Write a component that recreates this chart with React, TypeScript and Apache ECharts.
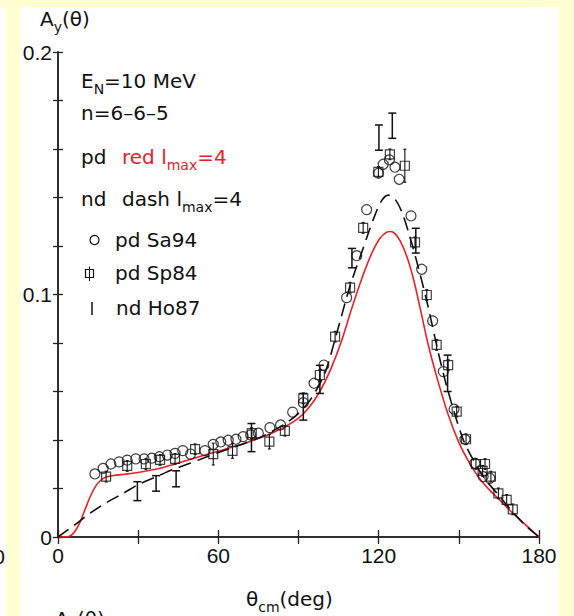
import React, { useEffect, useRef } from "react";
import * as echarts from "echarts";

// ---- data ----
const xTickLabels = [0, 60, 120, 180];
const yTickLabels = [0, 0.1, 0.2];

// pd calculation (red solid), [theta, Ay]
const pdCalc: number[][] = [
  [0, 0], [4, 0.0002], [6, 0.0018], [8, 0.0055], [10, 0.011], [12, 0.0165], [14, 0.0208],
  [16, 0.0234], [18, 0.0247], [21, 0.0254], [25, 0.0259], [30, 0.0266], [35, 0.0276], [40, 0.0289],
  [45, 0.0305], [50, 0.0322], [55, 0.0338], [60, 0.0354], [65, 0.037], [70, 0.0387],
  [75, 0.0406], [80, 0.0428], [85, 0.0455], [90, 0.049], [94, 0.0535], [98, 0.06],
  [102, 0.069], [106, 0.0805], [110, 0.0945], [114, 0.1075], [117.5, 0.1172], [120.5, 0.1232],
  [123, 0.1257], [124.5, 0.126], [126, 0.1252], [128, 0.1222], [130.5, 0.1158], [133, 0.1065],
  [135.5, 0.0945], [138.5, 0.0795], [142, 0.065], [146, 0.0505], [150, 0.039], [154, 0.0305],
  [158, 0.0238], [162, 0.0188], [166, 0.0145], [170, 0.01], [175, 0.005], [180, 0],
];

// nd calculation (black dashed)
const ndCalc: number[][] = [
  [0, 0], [6, 0.0048], [12, 0.0098], [18, 0.0141], [24.4, 0.018], [30, 0.0216],
  [36.9, 0.0249], [43, 0.0278], [49.4, 0.0304], [55, 0.0328], [60, 0.0348], [65, 0.0367],
  [70, 0.0387], [75, 0.0408], [80, 0.0435], [85, 0.0467], [90, 0.051], [95, 0.0575],
  [100, 0.068], [104.3, 0.084], [109.2, 0.1032], [114, 0.1185], [118, 0.1310],
  [121, 0.1385], [123.6, 0.141], [126, 0.1395], [128.5, 0.1345], [131.5, 0.1245],
  [135, 0.1105], [138.6, 0.0945], [142, 0.0775], [146, 0.06], [151.7, 0.04],
  [156.7, 0.0292], [160, 0.0236], [165.4, 0.0166], [170, 0.0105], [175.4, 0.0043], [180, 0],
];

// pd Sa94 (open circles)
const sa94: number[][] = [
  [13.8, 0.026], [16.9, 0.0283], [19.8, 0.0301], [22.9, 0.031], [25.9, 0.0317],
  [29.1, 0.0322], [32.2, 0.0322], [35.1, 0.0325], [37.9, 0.0331], [40.9, 0.0338],
  [43.8, 0.0345], [46.7, 0.0356], [49.6, 0.0342], [55, 0.0356], [58.1, 0.0382],
  [60.9, 0.0392], [63.7, 0.0399], [66.6, 0.0403], [69.3, 0.0414], [72.1, 0.0421],
  [75, 0.0428], [79.3, 0.0451], [83.3, 0.0462], [87.8, 0.0515], [91.8, 0.0554],
  [95.8, 0.0634], [99.5, 0.0709], [108, 0.0987], [111.8, 0.116], [115.5, 0.135],
  [119.9, 0.15], [121.7, 0.1537], [124, 0.1555], [126.1, 0.1525], [127.7, 0.1475],
  [132.1, 0.1324], [136.1, 0.1104], [140.2, 0.0891], [144.2, 0.0682], [148.2, 0.0527],
  [152.3, 0.0403], [156, 0.0304], [159.1, 0.0249], [161.6, 0.0242],
];

// pd Sp84 (open squares with error bars) [theta, Ay, err]
const sp84: number[][] = [
  [18, 0.0249, 0.0022], [25.9, 0.0293, 0.0022], [32.9, 0.0301, 0.0022], [38.2, 0.0318, 0.0022],
  [43.8, 0.0322, 0.0022], [51.3, 0.0362, 0.0022], [58.1, 0.0342, 0.0045], [65.3, 0.0355, 0.003],
  [72.5, 0.0428, 0.0022], [79.1, 0.0393, 0.003], [84.9, 0.0438, 0.0022], [91.8, 0.0572, 0.0022],
  [98, 0.0668, 0.0022], [103.7, 0.0826, 0.0022], [109.3, 0.1028, 0.0022], [114.2, 0.1275, 0.0022],
  [119.9, 0.1506, 0.0022], [124.2, 0.1578, 0.0022], [129.8, 0.1531, 0.0068], [133.6, 0.1215, 0.0022],
  [138, 0.0998, 0.0022], [141.7, 0.0792, 0.0022], [146, 0.0709, 0.0022], [149.2, 0.0517, 0.0022],
  [152.7, 0.0403, 0.0022], [156.4, 0.0301, 0.0022], [159.8, 0.0301, 0.0022], [158.9, 0.0273, 0.0022],
  [162, 0.0249, 0.0022], [164.8, 0.018, 0.0022], [167.9, 0.0153, 0.0022], [170.2, 0.0114, 0.0022],
];

// nd Ho87 (error bars only) [theta, Ay, err]
const ho87: number[][] = [
  [29.7, 0.0189, 0.0039], [36.7, 0.0221, 0.0032], [44.2, 0.024, 0.0033], [72.4, 0.041, 0.0058],
  [91.8, 0.0537, 0.0055], [98, 0.065, 0.0058], [110, 0.115, 0.004], [120.1, 0.1647, 0.0052],
  [125.1, 0.1696, 0.0052], [133.9, 0.1222, 0.0051], [145.8, 0.0675, 0.0075],
];

const FONT = "DejaVu Sans";
const TICKFONT = "Liberation Sans";

function errRender(hw: number, lw: number) {
  return (params: any, api: any) => {
    const x = api.value(0);
    const y = api.value(1);
    const e = api.value(2);
    const t = api.coord([x, y + e]);
    const b = api.coord([x, y - e]);
    const st = { stroke: "#111", lineWidth: lw };
    return {
      type: "group",
      children: [
        { type: "line", shape: { x1: t[0], y1: t[1], x2: b[0], y2: b[1] }, style: st },
        { type: "line", shape: { x1: t[0] - hw, y1: t[1], x2: t[0] + hw, y2: t[1] }, style: st },
        { type: "line", shape: { x1: b[0] - hw, y1: b[1], x2: b[0] + hw, y2: b[1] }, style: st },
      ],
    };
  };
}

function txt(x: number, y: number, text: string, rich: any, extra: any = {}) {
  return {
    type: "text",
    x,
    y,
    z: 100,
    style: {
      text,
      rich,
      font: `20px ${FONT}`,
      fill: "#111",
      verticalAlign: "middle",
      align: "left",
      ...extra,
    },
  };
}

const richBase = (color = "#111") => ({
  a: { fontFamily: FONT, fontSize: 20, lineHeight: 30, fill: color, verticalAlign: "middle" },
  s: { fontFamily: FONT, fontSize: 14, fill: color, verticalAlign: "bottom" },
});

export default function App() {
  const ref = useRef<HTMLDivElement>(null);
  useEffect(() => {
    if (!ref.current) return;
    const chart = echarts.init(ref.current, undefined, { renderer: "svg" });
    const axisLine = { show: true, lineStyle: { color: "#222", width: 1.5 } };
    const yellow = "#FFFFD2";
    const option: any = {
      animation: false,
      backgroundColor: "#ffffff",
      grid: { left: 58, right: 35, top: 52, bottom: 79, containLabel: false },
      xAxis: [
        {
          type: "value", min: 0, max: 180, interval: 30, position: "bottom",
          axisLine, splitLine: { show: false },
          axisTick: { show: true, inside: true, length: 7, lineStyle: { color: "#222", width: 1.3 } },
          axisLabel: {
            show: true, margin: 8, color: "#111", fontFamily: TICKFONT, fontSize: 21,
            formatter: (v: number) => (xTickLabels.includes(v) ? String(v) : ""),
          },
        },
        {
          type: "value", min: 0, max: 180, interval: 30, position: "top",
          axisLine, splitLine: { show: false },
          axisTick: { show: true, inside: true, length: 7, lineStyle: { color: "#222", width: 1.3 } },
          axisLabel: { show: false },
        },
      ],
      yAxis: [
        {
          type: "value", min: 0, max: 0.2, interval: 0.02, position: "left",
          axisLine, splitLine: { show: false },
          axisTick: { show: true, inside: true, length: 5, lineStyle: { color: "#222", width: 1.3 } },
          axisLabel: {
            show: true, margin: 6, color: "#111", fontFamily: TICKFONT, fontSize: 21,
            formatter: (v: number) => {
              const m = yTickLabels.find((t) => Math.abs(t - v) < 1e-9);
              return m === undefined ? "" : String(m);
            },
          },
        },
        {
          type: "value", min: 0, max: 0.2, interval: 0.02, position: "right",
          axisLine, splitLine: { show: false },
          axisTick: { show: true, inside: true, length: 5, lineStyle: { color: "#222", width: 1.3 } },
          axisLabel: { show: false },
        },
      ],
      series: [
        {
          type: "line", data: pdCalc, smooth: 0.3, showSymbol: false, symbol: "none",
          lineStyle: { color: "#e8202a", width: 1.6 }, z: 3,
        },
        {
          type: "line", data: ndCalc, smooth: 0.3, showSymbol: false, symbol: "none",
          lineStyle: { color: "#111", width: 1.6, type: [13, 7] }, z: 3,
        },
        {
          type: "custom", data: ho87, renderItem: errRender(4, 1.5), z: 4,
          encode: { x: 0, y: 1 },
        },
        {
          type: "custom", data: sp84, renderItem: errRender(1.5, 1.1), z: 4,
          encode: { x: 0, y: 1 },
        },
        {
          type: "scatter", data: sp84.map((d) => [d[0], d[1]]), symbol: "rect", symbolSize: 9,
          itemStyle: { color: "rgba(255,255,255,0)", borderColor: "#111", borderWidth: 1.2 }, z: 5,
        },
        {
          type: "scatter", data: sa94, symbol: "circle", symbolSize: 10,
          itemStyle: { color: "rgba(255,255,255,0)", borderColor: "#111", borderWidth: 1.2 }, z: 5,
        },
      ],
      graphic: [
        // yellow frame strips
        { type: "rect", shape: { x: 0, y: 0, width: 574, height: 7 }, style: { fill: yellow }, z: 0 },
        { type: "rect", shape: { x: 6, y: 0, width: 14, height: 616 }, style: { fill: yellow }, z: 0 },
        { type: "rect", shape: { x: 559, y: 0, width: 15, height: 616 }, style: { fill: yellow }, z: 0 },
        // neighbouring fragments (cut by the picture's edge, as in the reference)
        { type: "text", x: -1, y: 556, style: { text: "0", font: `21px ${TICKFONT}`, fill: "#111", align: "center", verticalAlign: "middle" } },
        txt(55, 619, "{a|A}{s|y}{a|(θ)}", richBase()),
        // axis titles
        txt(40, 19, "{a|A}{s|y}{a|(θ)}", richBase()),
        txt(246, 599, "{a|θ}{s|cm}{a|(deg)}", richBase()),
        // legend texts
        txt(81, 81, "{a|E}{s|N}{a|=10 MeV}", richBase()),
        txt(81, 113, "{a|n=6–6–5}", richBase()),
        txt(81, 157, "{a|pd}", richBase()),
        txt(122, 157, "{a|red l}{s|max}{a|=4}", richBase("#e8202a")),
        txt(81, 199, "{a|nd}", richBase()),
        txt(122, 199, "{a|dash l}{s|max}{a|=4}", richBase()),
        txt(115, 240, "{a|pd Sa94}", richBase()),
        txt(115, 273, "{a|pd Sp84}", richBase()),
        txt(116, 308, "{a|nd Ho87}", richBase()),
        // legend symbols
        { type: "circle", shape: { cx: 94.5, cy: 240, r: 4.5 }, style: { fill: "none", stroke: "#111", lineWidth: 1.2 }, z: 100 },
        { type: "rect", shape: { x: 85.5, y: 269.5, width: 8, height: 8 }, style: { fill: "none", stroke: "#111", lineWidth: 1.2 }, z: 100 },
        { type: "line", shape: { x1: 89.5, y1: 266.5, x2: 89.5, y2: 281 }, style: { stroke: "#111", lineWidth: 1.1 }, z: 100 },
        { type: "line", shape: { x1: 92, y1: 302, x2: 92, y2: 315 }, style: { stroke: "#111", lineWidth: 1.5 }, z: 100 },
      ],
    };
    chart.setOption(option);
    return () => chart.dispose();
  }, []);
  return (
    <div
      ref={ref}
      style={{ position: "fixed", left: 0, top: 0, width: 574, height: 616 }}
    />
  );
}
